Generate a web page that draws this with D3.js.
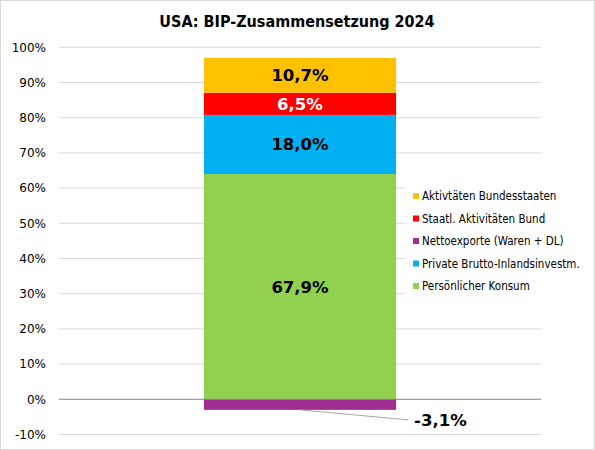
<!DOCTYPE html>
<html>
<head>
<meta charset="utf-8">
<script src="https://cdn.jsdelivr.net/npm/d3@7"></script>
<style>
  body { margin: 0; background: #fff; }
  svg { display: block; font-family: "DejaVu Sans Condensed", "DejaVu Sans", sans-serif; }
</style>
</head>
<body>
<svg id="chart" width="595" height="450"></svg>
<script>
const title = "USA: BIP-Zusammensetzung 2024";
const categories = ["2024"];
const seriesNames = [
  "Persönlicher Konsum",
  "Private Brutto-Inlandsinvestm.",
  "Nettoexporte (Waren + DL)",
  "Staatl. Aktivitäten Bund",
  "Aktivtäten Bundesstaaten"
];
// bar heights as drawn (percent)
const seriesValues = [64.0, 16.8, -3.0, 6.3, 9.9];
// data labels as printed
const seriesLabels = ["67,9%", "18,0%", "-3,1%", "6,5%", "10,7%"];
const seriesColors = ["#92D050", "#00B0F0", "#A12B91", "#FF0000", "#FFC000"];
const labelColors = ["#000", "#000", "#000", "#fff", "#000"];
const yTicks = [-10, 0, 10, 20, 30, 40, 50, 60, 70, 80, 90, 100];

const svg = d3.select("#chart");
const width = 595, height = 450;
const plot = { left: 59, right: 541, top: 47.3, bottom: 434.5 };

svg.append("rect")
  .attr("x", 0.5).attr("y", 0.5)
  .attr("width", width - 1).attr("height", height - 1)
  .attr("fill", "#fff").attr("stroke", "#d9d9d9");

const x = d3.scaleBand()
  .domain(categories)
  .range([plot.left, plot.right])
  .paddingInner(0.43).paddingOuter(0.43);

const y = d3.scaleLinear()
  .domain([-10, 100])
  .range([plot.bottom, plot.top]);

// gridlines
svg.append("g")
  .selectAll("line")
  .data(yTicks.filter(d => d !== 0))
  .join("line")
  .attr("x1", plot.left).attr("x2", plot.right)
  .attr("y1", d => y(d)).attr("y2", d => y(d))
  .attr("stroke", "#d9d9d9");

// y axis labels
const yAxis = svg.append("g")
  .attr("transform", `translate(${plot.left},0)`)
  .call(d3.axisLeft(y).tickValues(yTicks).tickSize(0).tickPadding(13)
    .tickFormat(d => d + "%"));
yAxis.select(".domain").remove();
yAxis.selectAll("text")
  .attr("font-family", "DejaVu Sans")
  .attr("font-size", 12)
  .attr("fill", "#000");

// stacked bar
const rows = categories.map(c => {
  const r = { cat: c };
  seriesNames.forEach((n, i) => r[n] = seriesValues[i]);
  return r;
});
const stack = d3.stack().keys(seriesNames).offset(d3.stackOffsetDiverging);
const layers = stack(rows);

svg.append("g")
  .selectAll("g")
  .data(layers)
  .join("g")
  .attr("fill", (d, i) => seriesColors[i])
  .selectAll("rect")
  .data(d => d)
  .join("rect")
  .attr("x", d => x(d.data.cat))
  .attr("width", x.bandwidth())
  .attr("y", d => y(Math.max(d[0], d[1])))
  .attr("height", d => Math.abs(y(d[0]) - y(d[1])));

// zero line
svg.append("line")
  .attr("x1", plot.left).attr("x2", plot.right)
  .attr("y1", y(0)).attr("y2", y(0))
  .attr("stroke", "#868686");

// data labels
const cx = x(categories[0]) + x.bandwidth() / 2;
layers.forEach((layer, i) => {
  const d = layer[0];
  if (seriesValues[i] >= 0) {
    svg.append("text")
      .attr("x", cx)
      .attr("y", y((d[0] + d[1]) / 2))
      .attr("dy", "0.36em")
      .attr("text-anchor", "middle")
      .attr("font-family", "DejaVu Sans")
      .attr("font-weight", "bold")
      .attr("font-size", 16.5)
      .attr("fill", labelColors[i])
      .text(seriesLabels[i]);
  } else {
    const bx = x(categories[0]) + x.bandwidth() + 12;
    const by = y(d[0]) + 10;
    svg.append("line")
      .attr("x1", cx).attr("y1", y(d[0]))
      .attr("x2", bx).attr("y2", by)
      .attr("stroke", "#a6a6a6");
    svg.append("text")
      .attr("x", bx + 6)
      .attr("y", by)
      .attr("dy", "0.36em")
      .attr("font-family", "DejaVu Sans")
      .attr("font-weight", "bold")
      .attr("font-size", 16.5)
      .attr("fill", labelColors[i])
      .text(seriesLabels[i]);
  }
});

// title
svg.append("text")
  .attr("x", 297).attr("y", 27)
  .attr("text-anchor", "middle")
  .attr("font-weight", "bold")
  .attr("font-size", 16)
  .text(title);

// legend (top to bottom in reverse series order)
const legendOrder = d3.range(seriesNames.length).reverse();
const legend = svg.append("g").attr("transform", "translate(405,184)");
legend.append("rect")
  .attr("width", 184).attr("height", 114)
  .attr("fill", "#fff");
const item = legend.selectAll("g")
  .data(legendOrder)
  .join("g")
  .attr("transform", (d, k) => `translate(8,${12 + k * 22.5})`);
item.append("rect")
  .attr("x", 0).attr("y", -3)
  .attr("width", 6).attr("height", 6)
  .attr("fill", i => seriesColors[i]);
item.append("text")
  .attr("x", 9).attr("dy", "0.35em")
  .attr("font-size", 11.5)
  .attr("fill", "#000")
  .text(i => seriesNames[i]);
</script>
</body>
</html>
